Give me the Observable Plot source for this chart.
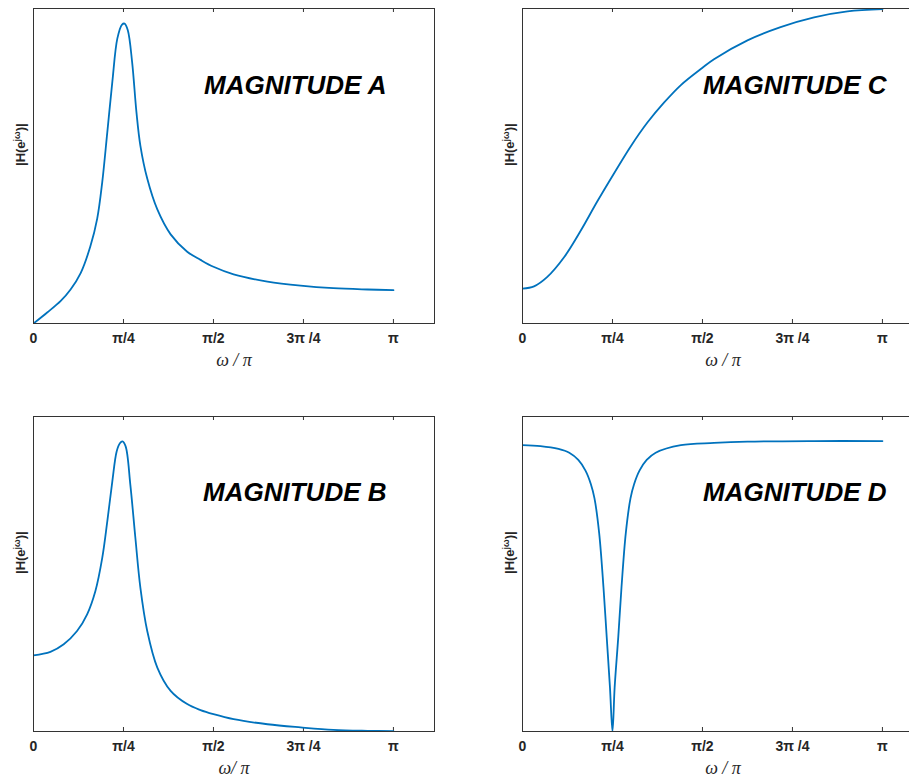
<!DOCTYPE html>
<html><head><meta charset="utf-8">
<script src="https://cdn.jsdelivr.net/npm/d3@7"></script>
<script src="https://cdn.jsdelivr.net/npm/@observablehq/plot@0.6"></script>
<style>
body{margin:0;background:#fff;overflow:hidden}
#wrap{position:relative;width:909px;height:778px;overflow:hidden;background:#fff}
.panel{position:absolute}
</style></head><body><div id="wrap"></div>
<script>
// x positions in units of pi (omega/pi), magnitudes normalised to the axis height
const tickValues = [0, 0.25, 0.5, 0.75, 1];
const tickLabels = ["0", "π/4", "π/2", "3π /4", "π"];

const omegaA = [0, 0.038, 0.075, 0.103, 0.131, 0.158, 0.177, 0.191, 0.205, 0.219, 0.233, 0.246, 0.253, 0.262, 0.274, 0.286, 0.297, 0.316, 0.344, 0.381, 0.427, 0.464, 0.5, 0.556, 0.65, 0.742, 0.833, 0.928, 1.0];
const magA   = [0, 0.035, 0.071, 0.108, 0.160, 0.245, 0.333, 0.449, 0.607, 0.767, 0.905, 0.949, 0.952, 0.931, 0.830, 0.671, 0.564, 0.460, 0.362, 0.283, 0.228, 0.202, 0.180, 0.156, 0.133, 0.120, 0.112, 0.108, 0.106];

const omegaB = [0, 0.047, 0.084, 0.121, 0.149, 0.172, 0.191, 0.205, 0.219, 0.231, 0.240, 0.247, 0.256, 0.269, 0.283, 0.297, 0.316, 0.344, 0.381, 0.427, 0.464, 0.5, 0.556, 0.65, 0.742, 0.833, 0.928, 1.0];
const magB   = [0.242, 0.253, 0.277, 0.319, 0.372, 0.446, 0.551, 0.667, 0.794, 0.889, 0.915, 0.921, 0.905, 0.784, 0.615, 0.456, 0.319, 0.203, 0.129, 0.087, 0.068, 0.055, 0.039, 0.023, 0.013, 0.005, 0.002, 0.001];

const omegaC = [0, 0.032, 0.069, 0.116, 0.162, 0.208, 0.255, 0.301, 0.347, 0.393, 0.44, 0.5, 0.532, 0.625, 0.717, 0.81, 0.903, 1.0];
const magC   = [0.111, 0.118, 0.148, 0.211, 0.295, 0.388, 0.478, 0.563, 0.638, 0.701, 0.757, 0.812, 0.839, 0.899, 0.941, 0.972, 0.991, 0.998];

const omegaD = [0, 0.05, 0.1, 0.13, 0.155, 0.175, 0.19, 0.2, 0.213, 0.225, 0.234, 0.243, 0.25, 0.256, 0.266, 0.275, 0.287, 0.3, 0.31, 0.325, 0.345, 0.37, 0.44, 0.532, 0.625, 0.81, 1.0];
const magD   = [0.909, 0.906, 0.897, 0.885, 0.862, 0.828, 0.785, 0.740, 0.630, 0.457, 0.299, 0.140, 0, 0.140, 0.299, 0.457, 0.630, 0.740, 0.785, 0.828, 0.862, 0.885, 0.909, 0.916, 0.920, 0.922, 0.922];

const titles = ["MAGNITUDE A", "MAGNITUDE B", "MAGNITUDE C", "MAGNITUDE D"];
const xLabels = ["ω / π", "ω/ π", "ω / π", "ω / π"];
const yLabel = "|H(e^jω)|";

const panels = [
  {omega: omegaA, mag: magA, title: titles[0], xl: xLabels[0], left: 0,   top: 0,   tdx: -48, tdy: 77},
  {omega: omegaB, mag: magB, title: titles[1], xl: xLabels[1], left: 0,   top: 408, tdx: -48, tdy: 76},
  {omega: omegaC, mag: magC, title: titles[2], xl: xLabels[2], left: 489, top: 0,   tdx: -37, tdy: 77},
  {omega: omegaD, mag: magD, title: titles[3], xl: xLabels[3], left: 489, top: 408, tdx: -37, tdy: 76}
];

const W = 450, H = 375, mL = 33, mR = 16, mT = 8, mB = 52;
const FH = H - mT - mB;
const axisColor = "#333";

const wrap = document.getElementById("wrap");
for (const p of panels) {
  const data = p.omega.map((w, i) => ({w, m: p.mag[i]}));
  const svg = Plot.plot({
    width: W, height: H,
    marginLeft: mL, marginRight: mR, marginTop: mT, marginBottom: mB,
    style: {fontFamily: "Liberation Sans, Arial, sans-serif", background: "transparent", overflow: "visible"},
    x: {domain: [0, 3.5 / Math.PI], axis: null},
    y: {domain: [0, 1], axis: null},
    marks: [
      Plot.ruleX(tickValues, {x: d => d, insetTop: FH - 4, stroke: axisColor}),
      Plot.ruleX(tickValues, {x: d => d, insetBottom: FH - 4, stroke: axisColor}),
      Plot.axisX({ticks: tickValues, tickFormat: d => tickLabels[tickValues.indexOf(d)], tickSize: 0, tickPadding: 10,
        fontSize: 14, fontWeight: "bold", fill: "#262626", label: null}),
      Plot.line(data, {x: "w", y: "m", stroke: "#0072BD", strokeWidth: 1.8, curve: "catmull-rom", clip: true}),
      Plot.frame({stroke: axisColor, strokeWidth: 1}),
      Plot.text([p.title], {text: d => d, frameAnchor: "top-right", dx: p.tdx, dy: p.tdy, textAnchor: "end", lineAnchor: "middle",
        fontSize: 26, fontWeight: "bold", fontStyle: "italic", fill: "#000"}),
      Plot.text([p.xl], {text: d => d, frameAnchor: "bottom", dy: 37, lineAnchor: "middle",
        fontSize: 18, fontStyle: "italic", fontFamily: "Liberation Serif, Times New Roman, serif", fill: "#262626"}),
      Plot.text([yLabel], {text: d => d, frameAnchor: "left", dx: -13, rotate: -90, lineAnchor: "middle",
        fontSize: 13, fontWeight: "bold", fill: "#262626"})
    ]
  });
  // superscript for the y label
  d3.select(svg).selectAll("text").filter(function() { return this.textContent === yLabel; })
    .each(function() {
      const t = d3.select(this);
      t.text(null);
      t.append("tspan").text("|H(e");
      t.append("tspan").attr("dy", -5).attr("font-size", 9).text("jω");
      t.append("tspan").attr("dy", 5).text(")|");
    });
  svg.classList.add("panel");
  svg.style.left = p.left + "px";
  svg.style.top = p.top + "px";
  wrap.appendChild(svg);
}
</script>
</body></html>
